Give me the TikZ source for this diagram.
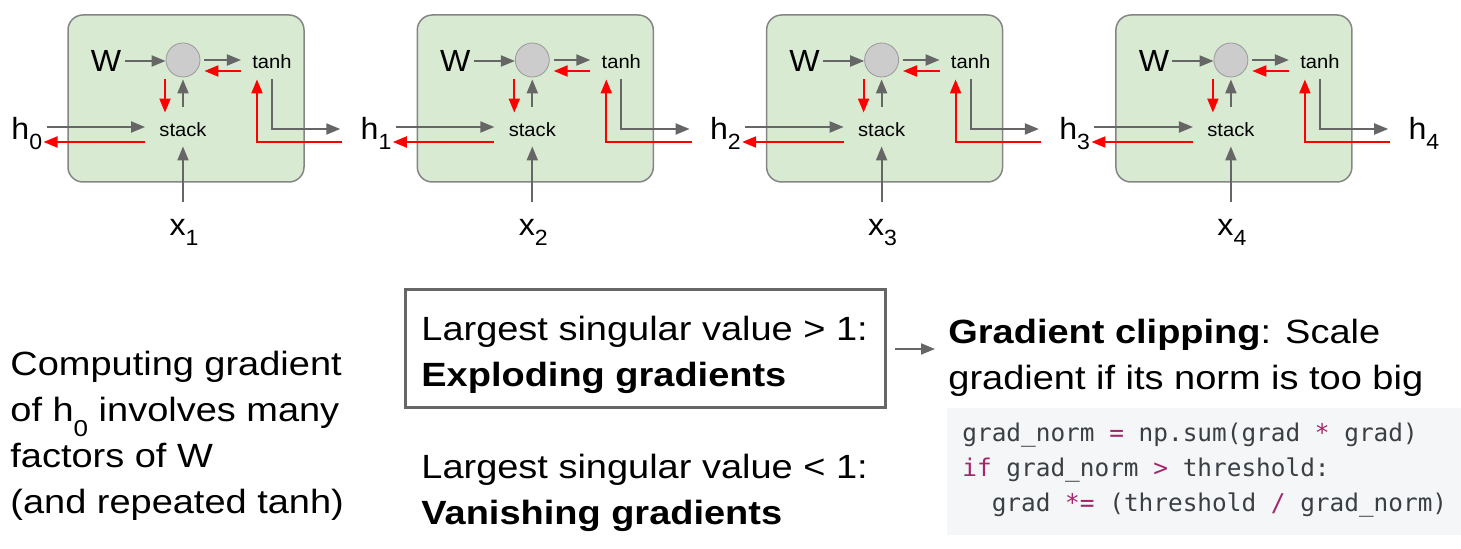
\documentclass[tikz,border=0pt]{standalone}
\usepackage{fontspec}
\setmainfont{Liberation Sans}[FakeStretch=1.13]
\newfontfamily\cellfont{Liberation Sans}[FakeStretch=1.05]
\setmonofont{DejaVu Sans Mono}
\usetikzlibrary{calc}
\usetikzlibrary{positioning}
\usetikzlibrary{arrows.meta}
\definecolor{cellgreen}{HTML}{D9EAD3}
\definecolor{celledge}{HTML}{858585}
\definecolor{sumfill}{HTML}{CCCCCC}
\definecolor{sumedge}{HTML}{999999}
\definecolor{flowgray}{HTML}{666666}
\definecolor{backred}{HTML}{FF0000}
\definecolor{codebg}{HTML}{F5F6F8}
\definecolor{codefg}{HTML}{3A3F44}
\definecolor{codekw}{HTML}{A3286A}
\newcommand{\subidx}[1]{\raisebox{-5pt}{\fontsize{11}{11}\selectfont #1}}
\newcommand{\subtxt}[1]{\raisebox{-7.5pt}{\fontsize{11.5}{11.5}\selectfont #1}}
\newcommand{\kw}[1]{{\color{codekw}#1}}
\tikzset{
  cellbox/.style={draw=celledge, fill=cellgreen, line width=0.75pt, rounded corners=7.5pt,
    minimum width=118pt, minimum height=83.5pt},
  sumnode/.style={circle, draw=sumedge, fill=sumfill, minimum size=17pt, inner sep=0pt},
  biglbl/.style={inner sep=0pt, font=\cellfont\fontsize{15.3}{18}\selectfont},
  smalllbl/.style={inner sep=0pt, font=\cellfont\fontsize{9.6}{11}\selectfont},
  bodytext/.style={inner sep=0pt, align=left, font=\fontsize{16.8}{23}\selectfont},
  framebox/.style={draw=flowgray, line width=1.5pt, minimum width=240pt, minimum height=59pt},
  codetext/.style={inner sep=0pt, align=left, text=codefg, font=\ttfamily\fontsize{12.2}{17.5}\selectfont},
  garr/.style={draw=flowgray, line width=1pt, -{Triangle[length=7pt,width=5.5pt]}},
  rarr/.style={draw=backred, line width=1pt, -{Triangle[length=7pt,width=5.5pt]}}
}
\begin{document}
\begin{tikzpicture}[x=0.5pt, y=-0.5pt]
  \useasboundingbox (0,0) rectangle (1461,549);

  % hidden states
  \foreach \i in {0,...,4}
    \node[biglbl, anchor=base west] (h\i) at (11+349.3*\i, 140) {h\subidx{\i}};

  % one cell per time step
  \foreach \i [evaluate=\i as \p using int(\i-1), evaluate=\i as \dx using 349.3*(\i-1)] in {1,...,4} {
    \node[cellbox] (cell\i) at (186+\dx, 98.5) {};
    \node[biglbl] (W\i) at (106+\dx, 61) {W};
    \node[sumnode] (c\i) at (183+\dx, 60) {};
    \node[smalllbl] (tanh\i) at (272+\dx, 62) {tanh};
    \node[smalllbl] (stack\i) at (183+\dx, 130) {stack};
    \node[biglbl, anchor=base] (x\i) at (184+\dx, 236) {x\subidx{\i}};

    % forward pass
    \draw[garr, shorten <=1.5pt] (W\i.east) -- (W\i.east -| c\i.west);
    \draw[garr, shorten <=2pt, shorten >=5.5pt] (c\i.east) -- (c\i.east -| tanh\i.west);
    \draw[garr, shorten <=8pt, shorten >=1pt] (stack\i.north) -- (c\i.south);
    \draw[garr, shorten <=8.5pt, shorten >=4.5pt] (x\i.north -| stack\i) -- (stack\i.south);
    \draw[garr, shorten <=2pt] (h\p.east |- {$(stack\i.west)+(0,-3)$}) -- ($(stack\i.west)+(-14,-3)$);
    \draw[garr, shorten <=5pt] (tanh\i.south) |- ($(h\i.west |- stack\i)+(-20,-1)$);

    % backward pass
    \draw[rarr] ($(tanh\i.west)+(-11,9)$) -- ($(c\i.east)+(4,11)$);
    \draw[rarr] ($(c\i.south)+(-18,2)$) -- ($(stack\i.north)+(-18,-10)$);
    \draw[rarr] ($(stack\i.west)+(-14,12)$) -- ($(h\p.east |- stack\i.west)+(1,12)$);
    \draw[rarr] ($(h\i.west |- stack\i.west)+(-18,12)$) -| ($(tanh\i.south west)+(5,10)$);
  }

  \node[bodytext, anchor=north west] (summary) at (10,351)
    {Computing gradient\\of h\subtxt{0} involves many\\factors of W\\(and repeated tanh)};

  \node[framebox] (expbox) at (645,349) {};
  \node[bodytext, anchor=north west] (explode) at (421,315.5)
    {Largest singular value > 1:\\\textbf{Exploding gradients}};
  \node[bodytext, anchor=north west] (vanish) at (421,453.5)
    {Largest singular value < 1:\\\textbf{Vanishing gradients}};

  \node[bodytext, anchor=north west] (clip) at (948,318.5)
    {\textbf{Gradient clipping}: Scale\\gradient if its norm is too big};
  \draw[garr, shorten <=4pt, shorten >=6.5pt] (expbox.east) -- (expbox.east -| clip.west);

  \node[fill=codebg, inner sep=0pt, minimum width=257pt, minimum height=63.5pt] (codebox) at (1204,471.5) {};
  \node[codetext, anchor=north west] (code) at (962,423)
    {grad\_norm \kw{=} np.sum(grad \kw{*} grad)\\
     \kw{if} grad\_norm \kw{>} threshold:\\
     \hphantom{xx}grad \kw{*=} (threshold \kw{/} grad\_norm)};
\end{tikzpicture}
\end{document}
